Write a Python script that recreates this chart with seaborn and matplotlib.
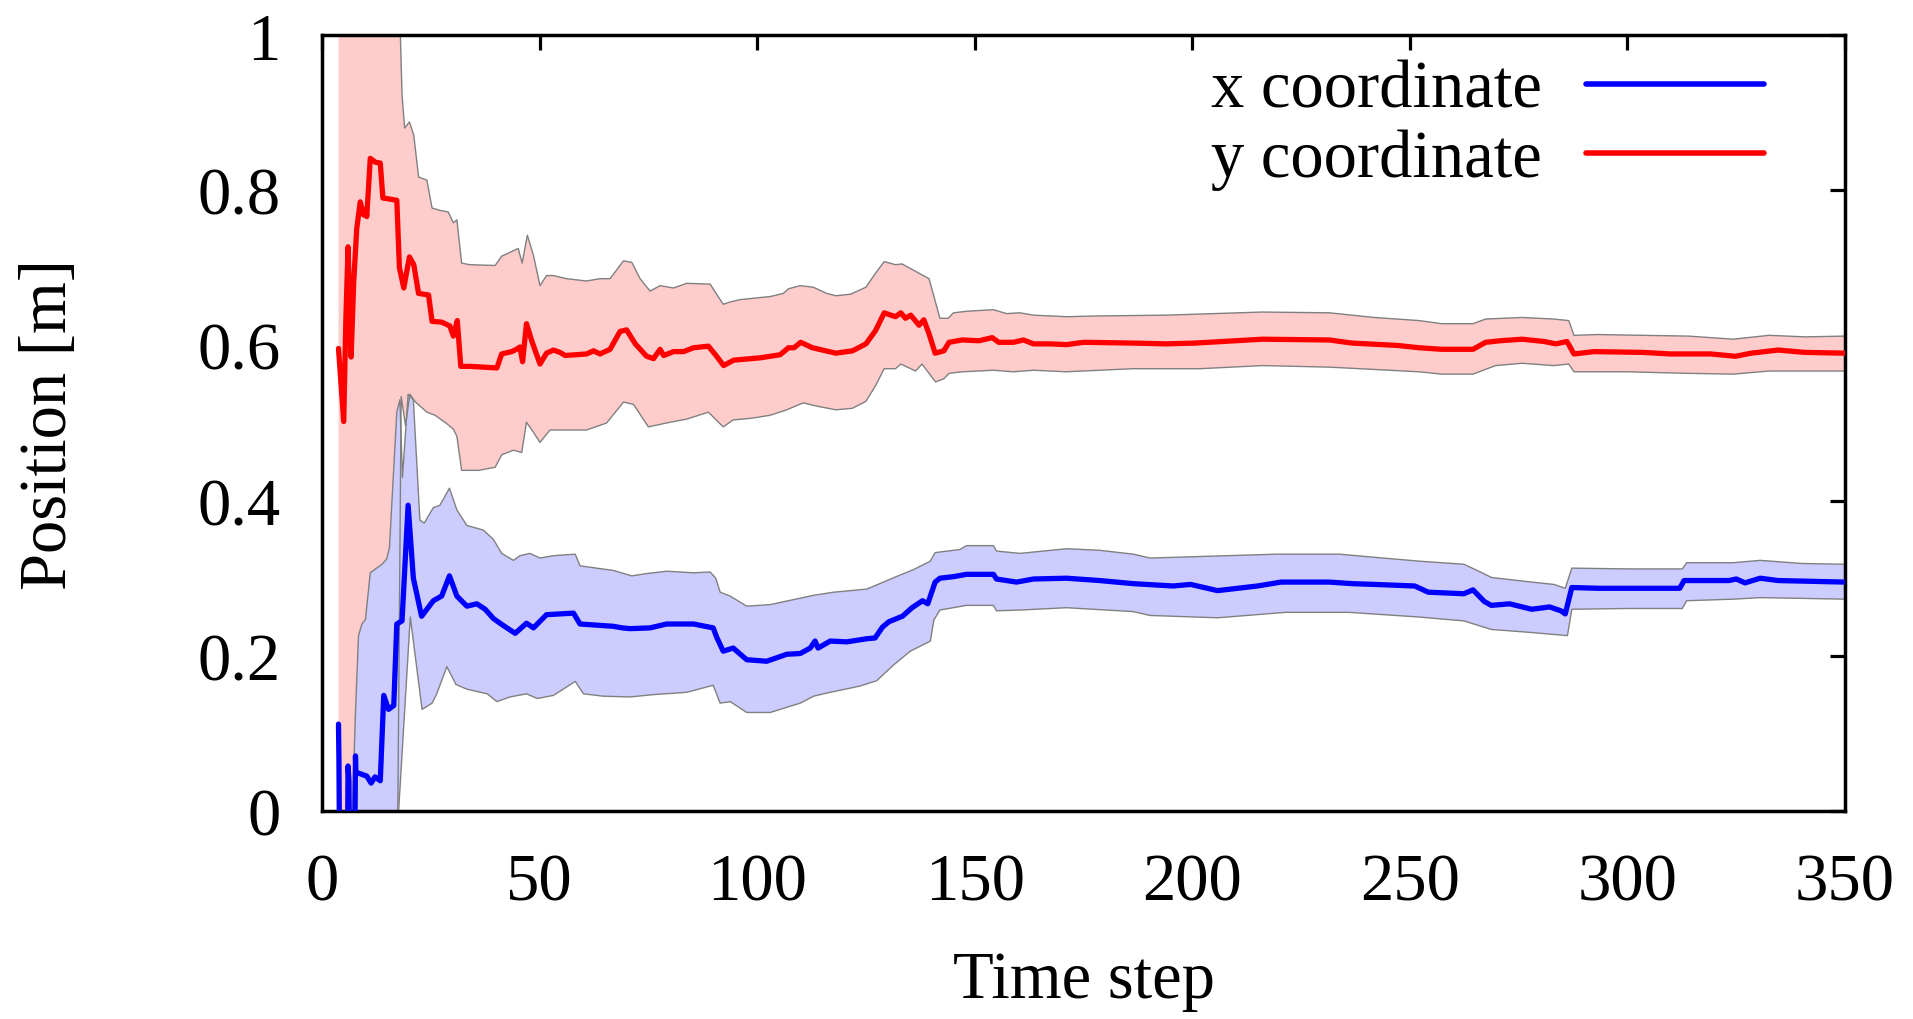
import numpy as np
import pandas as pd
import matplotlib
matplotlib.use("Agg")
import matplotlib.pyplot as plt
from matplotlib.ticker import FormatStrFormatter
import seaborn as sns

# ---- y coordinate estimate (mean, upper and lower bound) ----
y_mean_t = [3.8, 5.0, 5.5, 6.0, 6.7, 7.3, 8.0, 8.8, 9.6, 10.0, 10.3, 11.1, 12.3, 13.4, 14.0, 17.2,
            17.8, 18.8, 20.1, 21.1, 22.2, 24.5, 25.3, 27.5, 29.4, 30.2, 31.1, 31.9, 34.0, 40.2, 41.3,
            43.6, 44.7, 45.5, 46.1, 47.0, 48.2, 50.1, 51.6, 53.2, 54.7, 55.9, 60.8, 62.4, 63.9, 66.2,
            68.5, 70.0, 72.0, 74.6, 76.2, 77.7, 78.5, 80.8, 83.1, 85.4, 88.8, 90.7, 92.3, 94.6, 100.7,
            105.3, 107.2, 108.5, 110.0, 112.7, 118.1, 121.9, 125.0, 127.2, 129.2, 131.8, 133.0, 134.1,
            135.3, 137.2, 138.3, 139.5, 140.9, 142.9, 144.1, 147.1, 151.0, 154.0, 155.5, 158.9, 161.2,
            163.5, 167.3, 171.1, 175.0, 186.4, 194.0, 200.6, 216.1, 231.5, 236.7, 247.0, 252.1, 257.3,
            264.5, 267.4, 270.7, 275.8, 280.9, 283.5, 286.1, 287.7, 292.3, 303.6, 309.8, 319.1, 324.8,
            328.4, 334.6, 340.8, 350.0]
y_mean = [0.596, 0.502, 0.635, 0.727, 0.585, 0.682, 0.751, 0.785, 0.768, 0.775, 0.766, 0.841, 0.836,
          0.835, 0.790, 0.787, 0.700, 0.674, 0.714, 0.704, 0.667, 0.665, 0.631, 0.630, 0.625, 0.612,
          0.632, 0.573, 0.573, 0.571, 0.589, 0.592, 0.595, 0.598, 0.579, 0.628, 0.606, 0.576, 0.590,
          0.594, 0.591, 0.587, 0.589, 0.593, 0.589, 0.595, 0.618, 0.620, 0.602, 0.586, 0.583, 0.595,
          0.587, 0.592, 0.592, 0.597, 0.599, 0.586, 0.574, 0.581, 0.584, 0.588, 0.597, 0.597, 0.604,
          0.597, 0.590, 0.593, 0.602, 0.619, 0.642, 0.637, 0.642, 0.635, 0.639, 0.626, 0.633, 0.615,
          0.590, 0.593, 0.604, 0.607, 0.606, 0.610, 0.604, 0.604, 0.607, 0.602, 0.602, 0.601, 0.604,
          0.603, 0.602, 0.603, 0.608, 0.607, 0.603, 0.600, 0.597, 0.595, 0.595, 0.604, 0.606, 0.608,
          0.605, 0.602, 0.605, 0.589, 0.592, 0.591, 0.589, 0.589, 0.586, 0.590, 0.594, 0.591, 0.590]

y_upper_t = [3.8, 17.0, 18.4, 19.0, 20.1, 21.1, 22.2, 24.1, 25.3, 27.1, 29.0, 30.2, 31.0, 32.1, 34.0,
             39.8, 41.3, 44.0, 45.1, 46.0, 47.2, 48.6, 50.1, 51.6, 53.2, 56.2, 60.8, 63.9, 66.2, 69.3,
             71.2, 73.1, 75.4, 77.7, 80.8, 83.8, 89.2, 92.2, 93.8, 96.1, 103.0, 106.0, 107.2, 109.9,
             112.9, 116.0, 118.1, 121.5, 125.0, 127.2, 129.2, 131.8, 133.3, 135.9, 139.5, 142.0, 143.9,
             145.1, 148.1, 154.3, 157.3, 160.4, 163.5, 171.1, 178.7, 194.0, 216.1, 231.5, 241.8, 252.1,
             257.3, 264.5, 267.4, 275.8, 283.0, 286.5, 287.7, 293.3, 303.6, 314.0, 324.3, 332.5, 340.8,
             350.0]
y_upper = [1.70, 1.20, 0.923, 0.880, 0.888, 0.871, 0.817, 0.813, 0.777, 0.774, 0.772, 0.758, 0.762,
           0.706, 0.704, 0.703, 0.715, 0.722, 0.725, 0.706, 0.742, 0.716, 0.677, 0.690, 0.690, 0.686,
           0.683, 0.686, 0.686, 0.709, 0.707, 0.686, 0.670, 0.677, 0.674, 0.680, 0.679, 0.653, 0.656,
           0.659, 0.663, 0.667, 0.673, 0.677, 0.675, 0.667, 0.664, 0.666, 0.675, 0.693, 0.708, 0.704,
           0.705, 0.697, 0.686, 0.635, 0.635, 0.642, 0.644, 0.646, 0.641, 0.642, 0.639, 0.637, 0.638,
           0.639, 0.643, 0.642, 0.636, 0.632, 0.628, 0.628, 0.634, 0.636, 0.634, 0.632, 0.613, 0.614,
           0.613, 0.612, 0.608, 0.613, 0.611, 0.612]

y_lower_t = [3.8, 17.0, 18.2, 19.2, 20.2, 21.5, 24.1, 26.0, 28.5, 30.2, 31.0, 32.1, 36.0, 39.8, 41.3,
             44.0, 45.9, 47.0, 48.6, 50.1, 52.4, 56.2, 60.8, 65.4, 69.3, 71.6, 75.0, 80.0, 83.8, 88.8,
             92.2, 94.5, 98.5, 103.0, 106.8, 110.6, 113.5, 118.1, 121.9, 125.0, 127.2, 129.2, 131.8,
             133.0, 134.9, 136.4, 137.9, 139.5, 141.0, 142.9, 144.1, 147.1, 154.3, 158.9, 163.5, 171.1,
             178.7, 186.4, 201.8, 216.1, 231.5, 241.8, 252.1, 257.3, 264.5, 269.7, 275.8, 283.0, 286.5,
             287.7, 300.0, 314.0, 324.3, 332.5, 350.0]
y_lower = [-0.50, -0.30, 0.534, 0.497, 0.537, 0.527, 0.514, 0.510, 0.500, 0.492, 0.483, 0.439, 0.439,
           0.443, 0.459, 0.465, 0.462, 0.501, 0.488, 0.475, 0.491, 0.491, 0.491, 0.500, 0.527, 0.524,
           0.495, 0.501, 0.505, 0.514, 0.495, 0.504, 0.506, 0.510, 0.517, 0.526, 0.522, 0.517, 0.519,
           0.528, 0.548, 0.570, 0.570, 0.576, 0.571, 0.567, 0.576, 0.564, 0.553, 0.557, 0.564, 0.566,
           0.568, 0.566, 0.568, 0.566, 0.568, 0.570, 0.570, 0.574, 0.572, 0.569, 0.566, 0.563, 0.563,
           0.574, 0.577, 0.574, 0.576, 0.566, 0.566, 0.564, 0.563, 0.567, 0.567]

# ---- x coordinate estimate (mean, upper and lower bound) ----
x_mean_t = [3.8, 3.9, 4.9, 6.0, 6.2, 7.0, 7.7, 7.8, 8.8, 10.3, 11.3, 12.2, 13.4, 14.2, 15.3, 16.5,
            17.2, 18.4, 19.8, 21.0, 22.9, 25.6, 27.5, 29.3, 31.0, 33.3, 35.6, 37.5, 39.4, 41.7, 44.4,
            47.0, 48.6, 51.6, 57.8, 59.3, 67.0, 69.0, 70.8, 75.4, 79.2, 85.4, 89.9, 90.7, 92.2, 94.5,
            97.6, 102.2, 106.8, 109.9, 112.2, 113.3, 114.0, 116.8, 120.6, 125.2, 127.1, 128.8, 130.3,
            133.4, 135.6, 138.0, 139.2, 140.9, 142.0, 145.1, 148.1, 154.3, 155.0, 159.6, 163.5, 171.1,
            178.7, 186.4, 195.6, 199.6, 205.8, 215.0, 220.4, 231.5, 236.7, 241.8, 251.1, 254.2, 262.4,
            264.5, 267.1, 268.7, 272.9, 278.0, 282.1, 284.7, 285.7, 287.2, 293.4, 312.0, 313.0, 323.3,
            325.0, 327.0, 330.5, 334.6, 350.0]
x_mean = [0.112, 0.067, -0.80, 0.058, 0.039, -0.50, 0.071, 0.050, 0.048, 0.045, 0.036, 0.044, 0.039,
          0.149, 0.131, 0.136, 0.241, 0.245, 0.394, 0.300, 0.251, 0.271, 0.277, 0.303, 0.277, 0.264,
          0.267, 0.260, 0.248, 0.239, 0.229, 0.242, 0.236, 0.253, 0.255, 0.241, 0.238, 0.236, 0.235,
          0.236, 0.241, 0.241, 0.236, 0.224, 0.206, 0.210, 0.195, 0.193, 0.202, 0.203, 0.210, 0.219,
          0.210, 0.219, 0.218, 0.222, 0.223, 0.237, 0.244, 0.251, 0.262, 0.271, 0.267, 0.295, 0.300,
          0.302, 0.305, 0.305, 0.299, 0.295, 0.299, 0.300, 0.297, 0.293, 0.290, 0.292, 0.284, 0.290,
          0.295, 0.295, 0.293, 0.292, 0.290, 0.282, 0.280, 0.285, 0.270, 0.265, 0.267, 0.260, 0.263,
          0.258, 0.254, 0.288, 0.287, 0.287, 0.297, 0.297, 0.299, 0.294, 0.300, 0.297, 0.295]

x_upper_t = [6.0, 7.0, 7.7, 8.4, 9.2, 10.0, 11.1, 13.8, 14.9, 15.5, 17.2, 17.9, 18.5, 19.8, 21.0, 22.5,
             23.5, 25.6, 27.1, 29.3, 31.0, 33.3, 37.1, 39.4, 41.3, 44.0, 45.5, 47.8, 50.1, 53.2, 58.2,
             59.3, 63.1, 67.0, 71.2, 74.6, 79.2, 85.4, 89.2, 90.5, 91.5, 93.8, 97.6, 103.0, 108.0,
             113.0, 117.6, 125.2, 129.0, 132.8, 135.9, 139.8, 140.9, 146.6, 148.1, 154.3, 155.0, 160.4,
             171.1, 178.7, 186.4, 190.3, 219.4, 233.8, 241.8, 252.1, 262.4, 266.6, 268.7, 278.0, 283.1,
             285.7, 287.2, 300.0, 312.6, 313.6, 324.3, 330.5, 340.0, 350.0]
x_upper = [-0.30, 0.00, 0.127, 0.226, 0.241, 0.247, 0.307, 0.318, 0.325, 0.339, 0.514, 0.530, 0.430,
           0.537, 0.530, 0.375, 0.371, 0.391, 0.394, 0.416, 0.388, 0.368, 0.362, 0.350, 0.332, 0.323,
           0.329, 0.332, 0.326, 0.329, 0.331, 0.316, 0.313, 0.310, 0.303, 0.306, 0.309, 0.307, 0.308,
           0.300, 0.282, 0.277, 0.264, 0.266, 0.272, 0.278, 0.282, 0.286, 0.295, 0.304, 0.311, 0.322,
           0.333, 0.337, 0.342, 0.342, 0.335, 0.332, 0.338, 0.336, 0.331, 0.326, 0.331, 0.331, 0.327,
           0.322, 0.318, 0.307, 0.301, 0.295, 0.292, 0.287, 0.313, 0.312, 0.312, 0.320, 0.320, 0.323,
           0.319, 0.318]

x_lower_t = [6.0, 16.0, 17.4, 20.3, 23.0, 25.3, 26.3, 28.7, 30.8, 33.3, 38.0, 40.2, 43.2, 47.0, 49.5,
             53.2, 58.2, 60.1, 64.6, 70.8, 76.2, 83.8, 89.9, 91.5, 93.8, 97.6, 103.0, 109.9, 113.0,
             116.0, 123.6, 127.5, 131.3, 135.2, 139.8, 140.6, 142.0, 148.1, 154.3, 155.0, 160.4, 171.1,
             186.4, 190.3, 205.8, 221.4, 236.0, 252.1, 262.4, 268.7, 278.0, 286.2, 287.2, 300.0, 312.6,
             313.6, 324.3, 330.5, 350.0]
x_lower = [-0.80, -0.60, -0.02, 0.250, 0.131, 0.139, 0.150, 0.186, 0.163, 0.157, 0.151, 0.141, 0.147,
           0.151, 0.145, 0.149, 0.167, 0.151, 0.148, 0.147, 0.150, 0.153, 0.162, 0.139, 0.141, 0.127,
           0.127, 0.139, 0.148, 0.152, 0.161, 0.168, 0.188, 0.206, 0.219, 0.246, 0.259, 0.265, 0.265,
           0.258, 0.259, 0.262, 0.257, 0.252, 0.249, 0.256, 0.256, 0.250, 0.245, 0.234, 0.230, 0.226,
           0.260, 0.261, 0.261, 0.271, 0.273, 0.275, 0.273]

series_labels = ["x coordinate", "y coordinate"]
x_ticks = [0, 50, 100, 150, 200, 250, 300, 350]
y_ticks = [0, 0.2, 0.4, 0.6, 0.8, 1.0]

LINE_X, LINE_Y = "#0000ff", "#ff0000"
BAND_X, BAND_Y = "#ccccff", "#ffcccc"
EDGE = "#808080"

sns.set_theme(style="white")
plt.rcParams["font.family"] = ["Liberation Serif", "DejaVu Serif"]
plt.rcParams["text.color"] = "black"
plt.rcParams["axes.labelcolor"] = "black"
plt.rcParams["xtick.color"] = "black"
plt.rcParams["ytick.color"] = "black"

fig = plt.figure(figsize=(19.13, 10.20), dpi=100)
ax = fig.add_axes([0.1683, 0.2039, 0.7962, 0.7608])


def band(ax, ut, uv, lt, lv, face):
    px = np.r_[ut, lt[::-1]]
    py = np.r_[uv, lv[::-1]]
    ax.fill(px, py, facecolor=face, edgecolor="none", zorder=1)
    ax.plot(ut, uv, color=EDGE, lw=1.0, zorder=2)
    ax.plot(lt, lv, color=EDGE, lw=1.0, zorder=2)


band(ax, np.array(y_upper_t), np.array(y_upper), np.array(y_lower_t), np.array(y_lower), BAND_Y)
band(ax, np.array(x_upper_t), np.array(x_upper), np.array(x_lower_t), np.array(x_lower), BAND_X)

df_x = pd.DataFrame({"t": x_mean_t, "v": x_mean})
df_y = pd.DataFrame({"t": y_mean_t, "v": y_mean})
sns.lineplot(data=df_x, x="t", y="v", ax=ax, color=LINE_X, lw=3.8, sort=False,
             estimator=None, label=series_labels[0], zorder=4)
sns.lineplot(data=df_y, x="t", y="v", ax=ax, color=LINE_Y, lw=3.8, sort=False,
             estimator=None, label=series_labels[1], zorder=4)

ax.set_xlim(0, 350)
ax.set_ylim(0, 1)
ax.set_xticks(x_ticks)
ax.set_yticks(y_ticks)
ax.yaxis.set_major_formatter(FormatStrFormatter("%g"))

for s in ax.spines.values():
    s.set_visible(True)
    s.set_color("black")
    s.set_linewidth(2.5)
ax.tick_params(direction="in", length=11, width=2.3, top=True, right=True,
               labelsize=48, pad=30, colors="black")

ax.set_xlabel("Time step", fontsize=48, va="center", color="black")
ax.set_ylabel("Position [m]", fontsize=48, va="center", color="black")
ax.xaxis.set_label_coords(0.5, -0.219)
ax.yaxis.set_label_coords(-0.179, 0.5)

leg = ax.legend(loc="upper right", bbox_to_anchor=(0.9468, 0.968), frameon=False,
                markerfirst=False, fontsize=48, handlelength=2.67, handletextpad=0.67,
                labelspacing=0.12, borderpad=0.0, borderaxespad=0.0)
for line in leg.get_lines():
    line.set_linewidth(4.0)
for txt in leg.get_texts():
    txt.set_color("black")

fig.savefig("out.png", dpi=100, facecolor="white")
